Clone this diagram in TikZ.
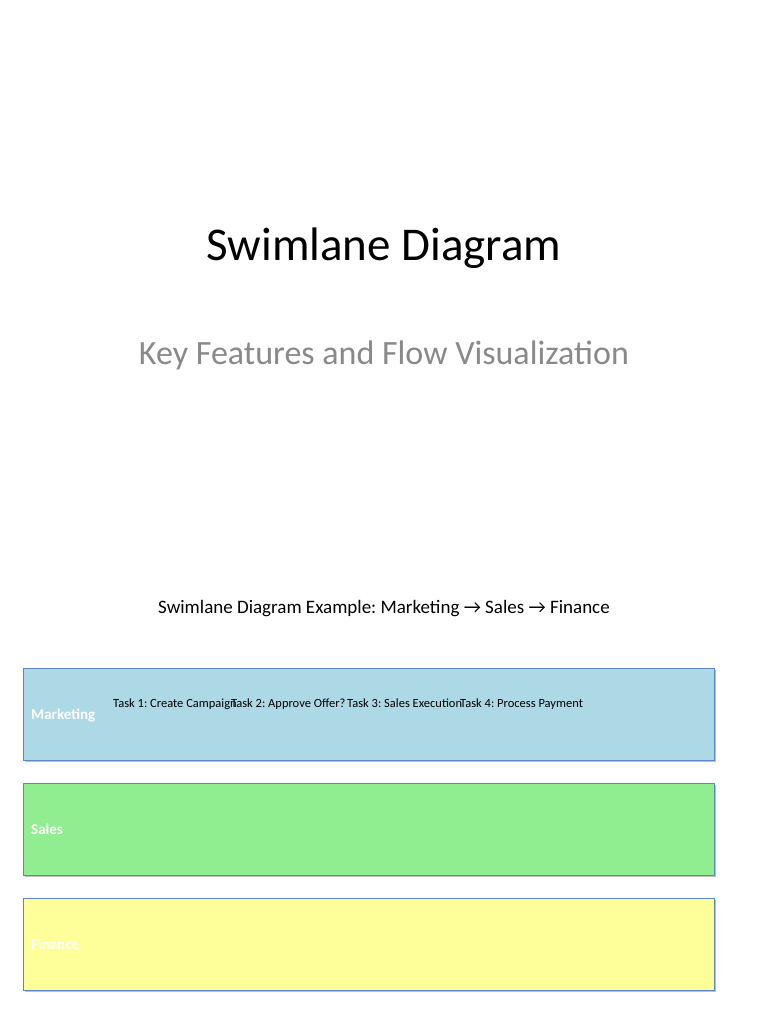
\documentclass[tikz,border=0pt]{standalone}
\usepackage{fontspec}
\setmainfont{Carlito}
\frenchspacing
\usetikzlibrary{shadows}
\definecolor{lanemk}{HTML}{ADD8E6}
\definecolor{lanesa}{HTML}{90EE90}
\definecolor{lanefi}{HTML}{FFFF99}
\definecolor{laneborder}{HTML}{5B87C9}
\definecolor{subgray}{HTML}{898989}
\tikzset{
  lane/.style={draw=laneborder, line width=0.9pt, inner sep=0pt, outer sep=0pt,
    drop shadow={shadow xshift=1.5pt, shadow yshift=-1.5pt, opacity=0.25, fill=black}},
  lanelabel/.style={anchor=base west, inner sep=0pt, text=white, font=\fontsize{15}{15}\selectfont\bfseries},
  task/.style={anchor=base west, inner sep=0pt, font=\fontsize{12.5}{12.5}\selectfont},
}
\begin{document}
\begin{tikzpicture}[x=1pt,y=-1pt]
\useasboundingbox (0,0) rectangle (768,1024);
\fill[white] (0,0) rectangle (768,1024);
\node[anchor=base, inner sep=0pt, font=\fontsize{47}{47}\selectfont] (title) at (384,260) {Swimlane Diagram};
\node[anchor=base, inner sep=0pt, text=subgray, font=\fontsize{34}{34}\selectfont] (subtitle) at (384,364) {Key Features and Flow Visualization};
\node[anchor=base, inner sep=0pt, font=\fontsize{19}{19}\selectfont] (caption) at (384,613) {Swimlane Diagram Example: Marketing → Sales → Finance};
\draw[lane, fill=lanemk] (23,668) rectangle (714,760);
\draw[lane, fill=lanesa] (23,783) rectangle (714,875);
\draw[lane, fill=lanefi] (23,898) rectangle (714,990);
\node[lanelabel] (mk) at (31,719) {Marketing};
\node[lanelabel] (sa) at (31,834) {Sales};
\node[lanelabel] (fi) at (31,949) {Finance};
\node[task] (t1) at (113,707) {Task 1: Create Campaign};
\node[task] (t2) at (231,707) {Task 2: Approve Offer?};
\node[task] (t3) at (347,707) {Task 3: Sales Execution};
\node[task] (t4) at (460,707) {Task 4: Process Payment};
\end{tikzpicture}
\end{document}
